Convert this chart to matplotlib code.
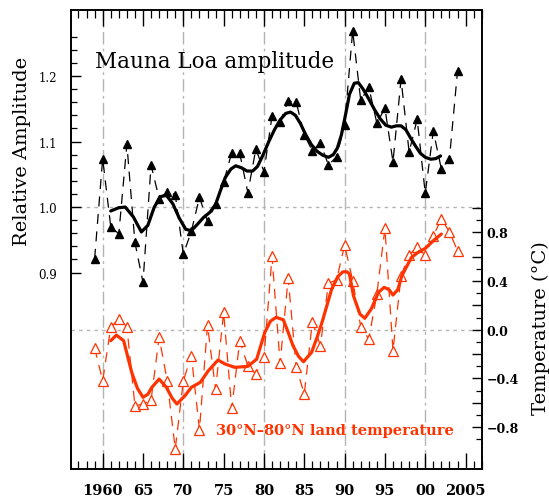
import numpy as np
import matplotlib
matplotlib.use('Agg')
import matplotlib.pyplot as plt
from matplotlib.ticker import FixedLocator, MultipleLocator

plt.rcParams['font.family'] = ['DejaVu Serif']

# Mauna Loa seasonal amplitude (annual values)
years = list(range(1959, 2005))
amplitude = [0.921, 1.074, 0.970, 0.959, 1.096, 0.946, 0.885, 1.064, 1.013, 1.023,
             1.019, 0.928, 0.963, 1.015, 0.978, 1.004, 1.038, 1.083, 1.082, 1.022,
             1.089, 1.054, 1.139, 1.130, 1.162, 1.160, 1.110, 1.086, 1.098, 1.064,
             1.077, 1.125, 1.269, 1.163, 1.183, 1.128, 1.151, 1.069, 1.195, 1.084,
             1.134, 1.021, 1.116, 1.058, 1.074, 1.207]

# 30N-80N land temperature anomaly (deg C)
temperature = [-0.150, -0.419, 0.020, 0.088, 0.025, -0.624, -0.610, -0.577, -0.062, -0.419,
               -0.980, -0.419, -0.213, -0.821, 0.038, -0.490, 0.143, -0.646, -0.090, -0.296,
               -0.364, -0.227, 0.603, -0.276, 0.425, -0.309, -0.528, 0.066, -0.131, 0.384,
               0.408, 0.696, 0.403, 0.025, -0.076, 0.293, 0.833, -0.172, 0.444, 0.614,
               0.677, 0.614, 0.772, 0.909, 0.805, 0.649]

# smoothed curves
amp_smooth_x = [1961.0, 1962.0, 1962.8, 1963.8, 1964.8, 1965.6, 1966.4, 1967.2, 1967.9, 1968.7,
                1969.5, 1970.3, 1971.0, 1971.7, 1972.5, 1973.3, 1974.0, 1974.6, 1975.2, 1975.9,
                1976.5, 1977.2, 1977.9, 1978.6, 1979.2, 1979.9, 1980.6, 1981.3, 1982.0, 1982.7,
                1983.3, 1983.9, 1984.5, 1985.2, 1985.9, 1986.6, 1987.3, 1988.0, 1988.6, 1989.1,
                1989.6, 1990.1, 1990.6, 1991.2, 1991.7, 1992.3, 1993.0, 1993.7, 1994.4, 1995.1,
                1995.8, 1996.4, 1997.0, 1997.6, 1998.2, 1998.8, 1999.4, 2000.0, 2000.7, 2001.3,
                2001.9]
amp_smooth_y = [0.994, 0.999, 1.000, 0.985, 0.962, 0.972, 1.000, 1.016, 1.018, 1.005,
                0.983, 0.966, 0.964, 0.973, 0.984, 0.992, 1.004, 1.025, 1.045, 1.058,
                1.063, 1.060, 1.055, 1.055, 1.062, 1.080, 1.100, 1.118, 1.133, 1.143,
                1.145, 1.140, 1.128, 1.110, 1.095, 1.085, 1.079, 1.076, 1.080, 1.090,
                1.110, 1.140, 1.172, 1.189, 1.190, 1.180, 1.165, 1.149, 1.135, 1.125,
                1.122, 1.124, 1.124, 1.118, 1.105, 1.093, 1.082, 1.076, 1.073, 1.074,
                1.078]

tmp_smooth_x = [1961.0, 1961.7, 1962.6, 1963.6, 1964.3, 1965.0, 1965.6, 1966.1, 1967.0, 1967.9,
                1968.6, 1969.2, 1970.2, 1971.0, 1972.1, 1973.1, 1974.3, 1975.2, 1976.4, 1977.2,
                1978.0, 1979.1, 1980.1, 1980.8, 1981.5, 1982.4, 1983.0, 1983.6, 1984.3, 1984.9,
                1985.9, 1986.6, 1987.2, 1988.4, 1989.2, 1989.8, 1990.3, 1990.6, 1991.1, 1991.9,
                1992.5, 1993.3, 1994.2, 1994.9, 1995.5, 1996.0, 1996.6, 1997.1, 1998.3, 1999.2,
                2000.0, 2001.0, 2002.0]
tmp_smooth_y = [-0.090, -0.044, -0.090, -0.350, -0.480, -0.555, -0.530, -0.473, -0.405, -0.473,
                -0.560, -0.610, -0.542, -0.473, -0.432, -0.337, -0.249, -0.282, -0.309, -0.305,
                -0.301, -0.241, -0.022, 0.070, 0.102, 0.082, -0.020, -0.131, -0.220, -0.263,
                -0.186, -0.060, 0.061, 0.334, 0.440, 0.476, 0.476, 0.458, 0.279, 0.129,
                0.094, 0.170, 0.307, 0.348, 0.330, 0.285, 0.330, 0.444, 0.595, 0.640,
                0.668, 0.731, 0.786]

xtick_pos = [1960, 1965, 1970, 1975, 1980, 1985, 1990, 1995, 2000, 2005]
xtick_lbl = ['1960', '65', '70', '75', '80', '85', '90', '95', '00', '2005']

red = '#ff3300'
grey = '#b4b4b4'

fig = plt.figure(figsize=(5.49, 5.02), dpi=100)
ax = fig.add_axes([0.1293, 0.0637, 0.7481, 0.9143])
ax2 = ax.twinx()

ax.set_xlim(1956.07, 2007.0)
ax.set_ylim(0.6, 1.3008)
ax2.set_ylim(-1.144, 2.626)

# grid lines
for yr in [1960, 1970, 1980, 1990, 2000]:
    ax.axvline(yr, color=grey, lw=1.0, linestyle=(0, (9, 3, 2, 3)), zorder=1)
ax.axhline(1.0, color=grey, lw=1.0, linestyle=(0, (2.5, 3)), zorder=1)
ax2.axhline(0.0, color=grey, lw=1.0, linestyle=(0, (2.5, 3)), zorder=1)

# amplitude
ax.plot(years, amplitude, color='black', lw=0.9, linestyle=(0, (8, 6)),
        marker='^', ms=5.5, mfc='black', mec='black', zorder=3)
ax.plot(amp_smooth_x, amp_smooth_y, color='black', lw=2.3, zorder=4,
        solid_capstyle='round', solid_joinstyle='round')

# temperature
ax2.plot(years, temperature, color=red, lw=0.9, linestyle=(0, (8, 6)),
         marker='^', ms=6.5, mfc='white', mec=red, mew=0.9, zorder=3)
ax2.plot(tmp_smooth_x, tmp_smooth_y, color=red, lw=2.3, zorder=4,
         solid_capstyle='round', solid_joinstyle='round')

# ticks
ax.xaxis.set_major_locator(FixedLocator(xtick_pos))
ax.set_xticklabels(xtick_lbl, fontsize=10.5, fontweight='bold')
ax.xaxis.set_minor_locator(MultipleLocator(1))
ax.tick_params(axis='x', which='both', direction='in', top=True, bottom=True, pad=10)
ax.tick_params(axis='x', which='major', length=11.5, width=1.0)
ax.tick_params(axis='x', which='minor', length=6, width=0.9)

ax.yaxis.set_major_locator(FixedLocator([0.9, 1.0, 1.1, 1.2]))
ax.yaxis.set_minor_locator(FixedLocator([0.92, 0.94, 0.96, 0.98, 1.02, 1.04, 1.06, 1.08,
                                         1.12, 1.14, 1.16, 1.18, 1.22, 1.24, 1.26]))
ax.set_yticklabels(['0.9', '1.0', '1.1', '1.2'], fontsize=8.5)
ax.tick_params(axis='y', which='both', direction='in', left=True, right=False, pad=10)
ax.tick_params(axis='y', which='major', length=7, width=1.0)
ax.tick_params(axis='y', which='minor', length=4, width=0.9)

ax2.yaxis.set_major_locator(FixedLocator([-0.8, -0.6, -0.4, -0.2, 0.0, 0.2, 0.4, 0.6, 0.8, 1.0]))
ax2.yaxis.set_minor_locator(FixedLocator([-0.9, -0.7, -0.5, -0.3, -0.1, 0.1, 0.3, 0.5, 0.7, 0.9]))
ax2.set_yticklabels(['\u22120.8', '', '\u22120.4', '', '0.0', '', '0.4', '', '0.8', ''],
                    fontsize=9, fontweight='bold')
ax2.tick_params(axis='y', which='both', direction='in', right=True, left=False, pad=3.5)
ax2.tick_params(axis='y', which='major', length=7, width=1.0)
ax2.tick_params(axis='y', which='minor', length=4, width=0.9)

for a in (ax, ax2):
    for s in a.spines.values():
        s.set_linewidth(1.2)

ax.text(0.0584, 0.889, 'Mauna Loa amplitude', transform=ax.transAxes,
        fontsize=15.5, va='center', ha='left')
ax2.text(1974.0, -0.82, '30\u00b0N\u201380\u00b0N land temperature', color=red,
         fontsize=10.5, fontweight='bold', va='center', ha='left')

fig.text(22 / 549, 1 - 151 / 502, 'Relative Amplitude', rotation=90,
         fontsize=14, va='center', ha='center')
fig.text(541 / 549, 1 - 328 / 502, 'Temperature (\u00b0C)', rotation=90,
         fontsize=14, va='center', ha='center')

fig.savefig('out.png', dpi=100)
